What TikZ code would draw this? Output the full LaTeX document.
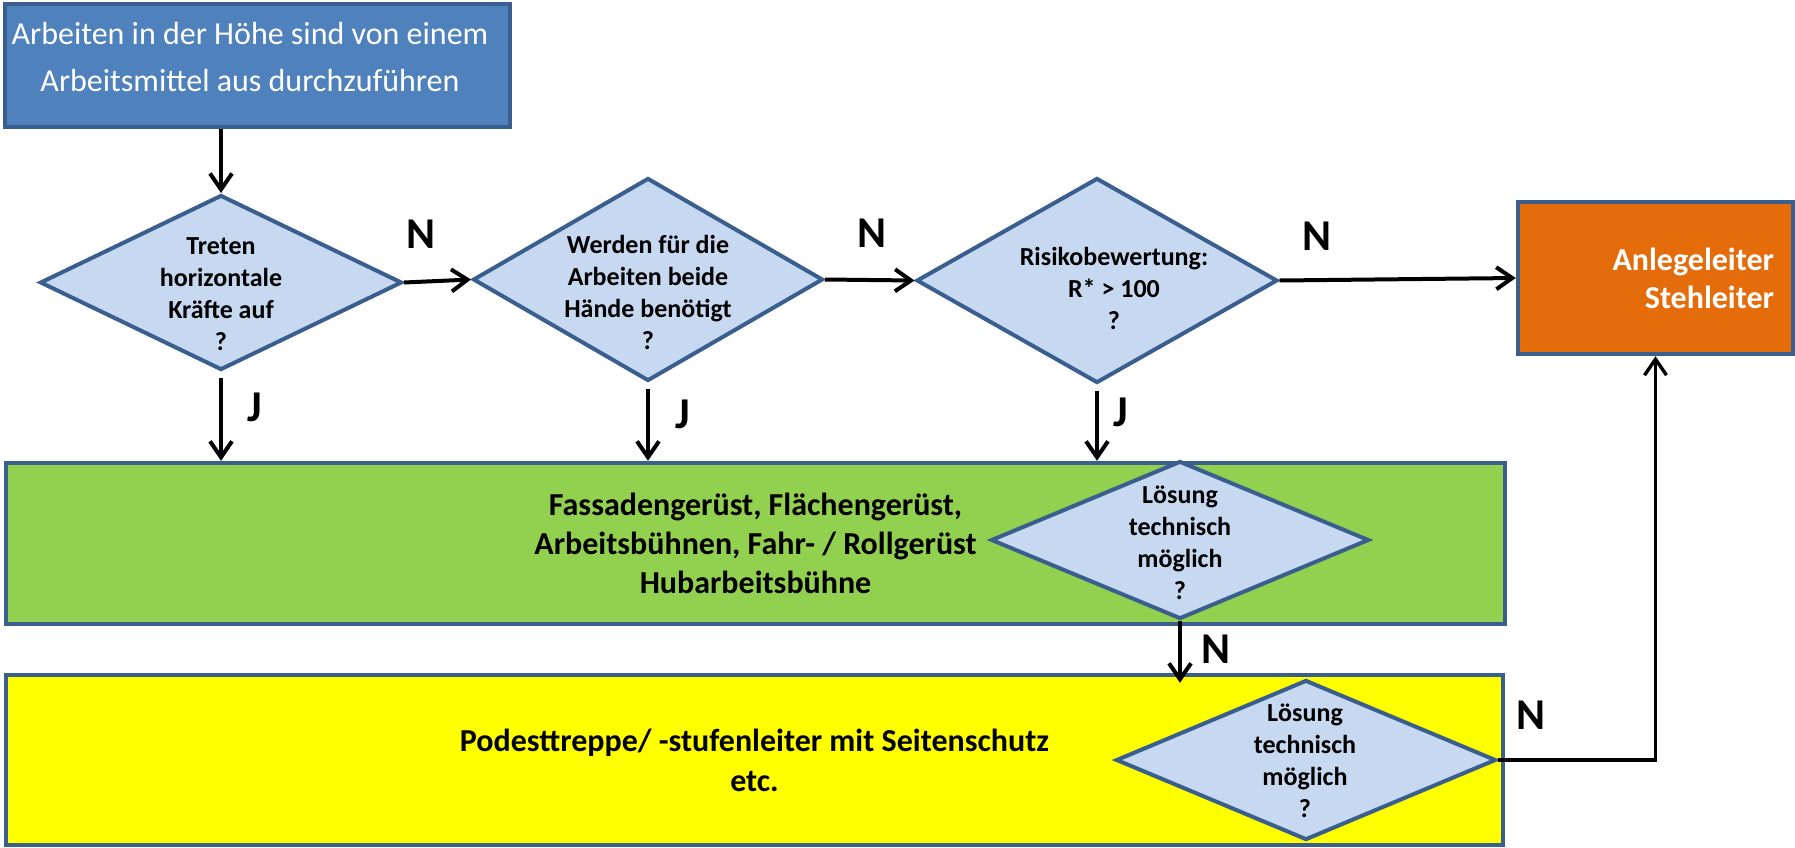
\documentclass[tikz,border=0pt]{standalone}
\usepackage{fontspec}
\setmainfont{Carlito}
\usepackage{tikz}
\usetikzlibrary{positioning}
\usetikzlibrary{shapes.geometric}
\usetikzlibrary{arrows.meta}

\definecolor{frameblue}{HTML}{3A5F8F}
\definecolor{headblue}{HTML}{4F81BD}
\definecolor{askblue}{HTML}{C6D9F1}
\definecolor{scaffgreen}{HTML}{92D050}
\definecolor{stairyellow}{HTML}{FFFF00}
\definecolor{ladderorange}{HTML}{E46C0A}

\begin{document}
\begin{tikzpicture}[x=0.5pt, y=-0.5pt,
    box/.style={rectangle, draw=frameblue, line width=2.2pt, inner sep=0pt},
    ask/.style={diamond, draw=frameblue, fill=askblue, line width=2pt, inner sep=0pt},
    asktext/.style={font=\fontsize{13}{16}\selectfont\bfseries, align=center},
    boxtext/.style={font=\fontsize{16}{19.5}\selectfont\bfseries, align=center},
    flow/.style={line width=2pt, -{Straight Barb[length=8pt,width=11pt]}},
    yesno/.style={font=\fontsize{22}{24}\selectfont\bfseries}]

    \useasboundingbox (0,0) rectangle (1795,847);

    \node[box, fill=headblue, minimum width=252.5pt, minimum height=61.5pt] (start) at (257.5,65.5) {};
    \node[font=\fontsize{16}{23.5}\selectfont, text=white, align=center] (startt) at (250,57)
        {Arbeiten in der Höhe sind von einem\\ Arbeitsmittel aus durchzuführen};

    \node[box, fill=scaffgreen, minimum width=749.5pt, minimum height=80.5pt, boxtext] (green) at (755.5,543.5)
        {Fassadengerüst, Flächengerüst,\\ Arbeitsbühnen, Fahr- / Rollgerüst\\ Hubarbeitsbühne};
    \node[box, fill=stairyellow, minimum width=748.5pt, minimum height=85pt, boxtext, font=\fontsize{16}{20}\selectfont\bfseries] (yellow) at (754.5,760)
        {Podesttreppe/ -stufenleiter mit Seitenschutz\\ etc.};
    \node[box, fill=ladderorange, minimum width=137.5pt, minimum height=76pt, inner xsep=9.5pt, text width=118.5pt,
          align=right, text=white, font=\fontsize{16}{19}\selectfont\bfseries] (orange) at (1655.5,278)
        {Anlegeleiter\\ Stehleiter};

    % questions
    \node[ask, minimum width=181pt, minimum height=87.5pt] (q1) at (221,282.5) {};
    \node[ask, minimum width=175pt, minimum height=101.5pt] (q2) at (648,279.5) {};
    \node[ask, minimum width=180.5pt, minimum height=102.5pt] (q3) at (1097,280.5) {};
    \node[ask, minimum width=189pt, minimum height=79pt] (q4) at (1180,540) {};
    \node[ask, minimum width=190pt, minimum height=80pt] (q5) at (1306,760) {};

    \node[asktext] (q1t) at (221,294) {Treten\\ horizontale\\ Kräfte auf\\ ?};
    \node[asktext] (q2t) at (648,292) {Werden für die\\ Arbeiten beide\\ Hände benötigt\\ ?};
    \node[asktext] (q3t) at (1114,288.5) {Risikobewertung:\\ R* > 100\\ ?};
    \node[asktext] (q4t) at (1180,542.5) {Lösung\\ technisch\\ möglich\\ ?};
    \node[asktext] (q5t) at (1305,760.5) {Lösung\\ technisch\\ möglich\\ ?};

    \draw[flow] (start.south -| q1.north) -- (q1.north);
    \draw[flow] (q1.east) -- node[yesno, pos=0.25, yshift=24pt] (n1) {N} (q2.west);
    \draw[flow] (q2.east) -- node[yesno, pos=0.53, yshift=23.5pt] (n2) {N} (q3.west);
    \draw[flow] (q3.east) -- node[yesno, pos=0.16, yshift=22pt] (n3) {N} (orange.west);

    \draw[flow] ([yshift=-3pt]q1.south) -- node[yesno, pos=0.35, xshift=17pt] (j1) {J} (q1.south |- green.north);
    \draw[flow] ([yshift=-3pt]q2.south) -- node[yesno, pos=0.35, xshift=17.5pt] (j2) {J} (q2.south |- green.north);
    \draw[flow] ([yshift=-3pt]q3.south) -- node[yesno, pos=0.3, xshift=12pt] (j3) {J} (q3.south |- green.north);

    \draw[flow] (q4.south) -- node[yesno, pos=0.45, xshift=18pt] (n4) {N} ([yshift=-5pt]yellow.north -| q4.south);
    \draw[flow, line width=1.7pt] (q5.east) -| node[yesno, pos=0.106, yshift=22.5pt] (n5) {N} (orange.south);

\end{tikzpicture}
\end{document}
